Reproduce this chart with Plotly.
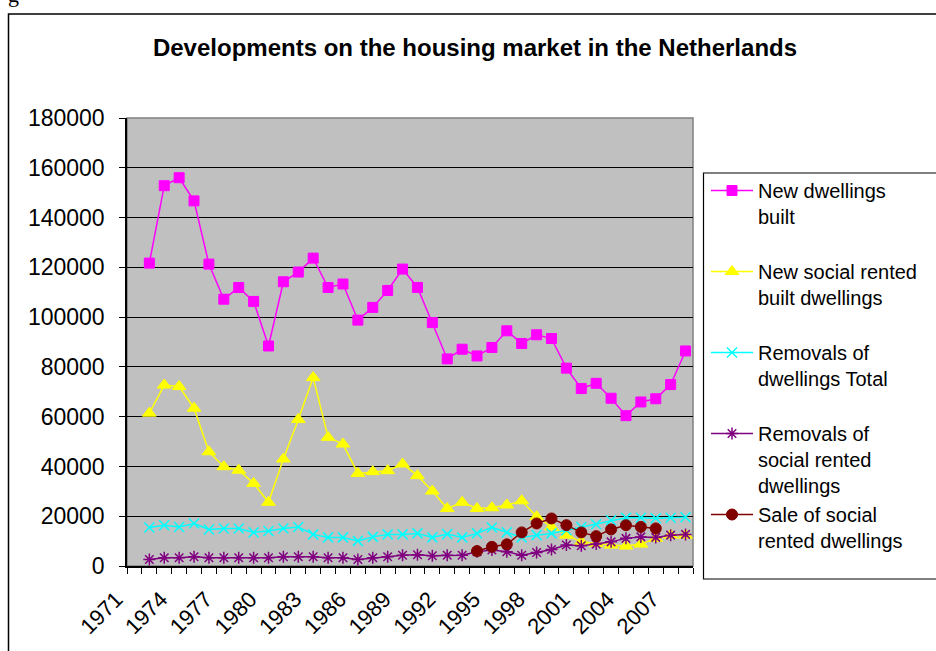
import plotly.graph_objects as go

years = [1971, 1972, 1973, 1974, 1975, 1976, 1977, 1978, 1979, 1980,
         1981, 1982, 1983, 1984, 1985, 1986, 1987, 1988, 1989, 1990,
         1991, 1992, 1993, 1994, 1995, 1996, 1997, 1998, 1999, 2000,
         2001, 2002, 2003, 2004, 2005, 2006, 2007, 2008]
label_years = [1971, 1974, 1977, 1980, 1983, 1986, 1989, 1992, 1995,
               1998, 2001, 2004, 2007]

new_dwellings = [None, 121700, 152800, 156000, 146700, 121300, 107200, 111900,
                 106300, 88400, 114200, 118100, 123700, 111900, 113300, 98800,
                 103900, 110700, 119300, 111900, 97800, 83200, 87100, 84400,
                 87800, 94500, 89400, 92900, 91400, 79500, 71300, 73400, 67400,
                 60400, 65900, 67200, 72900, 86400]
new_social = [None, 61400, 72700, 72100, 63400, 45900, 39900, 38500, 33200,
              25600, 43000, 58900, 75700, 51700, 49000, 37200, 37900, 38300,
              41000, 36300, 30100, 23100, 25600, 23100, 23400, 24500, 26200,
              19800, 15700, 12400, 9700, 9000, 8400, 8000, 8800, 11100, 12400,
              12400]
removals_total = [None, 15500, 16400, 15700, 17100, 14700, 15100, 15100, 13500,
                  14100, 15100, 15700, 12700, 11500, 11500, 10100, 11700, 12700,
                  12700, 13100, 11500, 12800, 11500, 13100, 15500, 13500, 11500,
                  12400, 13100, 14400, 15700, 16800, 18400, 19400, 19400, 19200,
                  19400, 19600]
removals_social = [None, 2600, 3300, 3300, 3700, 3300, 3300, 3300, 3300, 3300,
                   3700, 3700, 3700, 3300, 3300, 2600, 3300, 3700, 4300, 4500,
                   4100, 4300, 4300, 5700, 6400, 5700, 4300, 5400, 6600, 8400,
                   8100, 8800, 9700, 11100, 11700, 11500, 12400, 12700]
sale_social = [None, None, None, None, None, None, None, None, None, None,
               None, None, None, None, None, None, None, None, None, None,
               None, None, None, 6000, 7700, 8700, 13500, 17100, 19100, 16400,
               13500, 12000, 14700, 16400, 15700, 15100, None, None]

series_names = ["New dwellings<br>built<br> ",
                "New social rented<br>built dwellings<br> ",
                "Removals of<br>dwellings Total<br> ",
                "Removals of<br>social rented<br>dwellings",
                "Sale of social<br>rented dwellings"]

FONT = "Arial, 'Liberation Sans', sans-serif"
W, H = 936, 651
L, R, T, B = 127, 693, 118, 566
pw, ph = R - L, B - T


def px_x(p):
    return (p - L) / pw


def px_y(p):
    return (B - p) / ph


fig = go.Figure()

fig.add_trace(go.Scatter(
    x=years, y=new_dwellings, name=series_names[0], mode="lines+markers",
    line=dict(color="#FF00FF", width=1.5),
    marker=dict(symbol="square", size=10, color="#FF00FF",
                line=dict(color="#FF00FF", width=1))))
fig.add_trace(go.Scatter(
    x=years, y=new_social, name=series_names[1], mode="lines+markers",
    line=dict(color="#FFFF00", width=1.5),
    marker=dict(symbol="triangle-up", size=12, color="#FFFF00",
                line=dict(color="#FFFF00", width=1))))
fig.add_trace(go.Scatter(
    x=years, y=removals_total, name=series_names[2], mode="lines+markers",
    line=dict(color="#00FFFF", width=1.5),
    marker=dict(symbol="x-thin", size=10, color="#00FFFF",
                line=dict(color="#00FFFF", width=1.5))))
fig.add_trace(go.Scatter(
    x=years, y=removals_social, name=series_names[3], mode="lines+markers",
    line=dict(color="#800080", width=1.5),
    marker=dict(symbol="asterisk", size=10, color="#800080",
                line=dict(color="#800080", width=1.5))))
fig.add_trace(go.Scatter(
    x=years, y=sale_social, name=series_names[4], mode="lines+markers",
    line=dict(color="#800000", width=1.5),
    marker=dict(symbol="circle", size=11, color="#800000",
                line=dict(color="#800000", width=1))))

fig.update_layout(
    width=W, height=H,
    margin=dict(l=L, r=W - R, t=T, b=H - B, autoexpand=False),
    paper_bgcolor="white",
    plot_bgcolor="#C0C0C0",
    font=dict(family=FONT, size=21, color="black"),
    title=dict(text="<b>Developments on the housing market in the Netherlands</b>",
               xref="container", yref="container",
               x=475 / W, y=1 - 48 / H, xanchor="center", yanchor="middle",
               font=dict(family=FONT, size=24, color="black")),
    showlegend=True,
    legend=dict(x=px_x(706), y=px_y(171), xanchor="left", yanchor="top",
                borderwidth=0, bgcolor="rgba(0,0,0,0)",
                font=dict(family=FONT, size=20, color="black"),
                valign="top", tracegroupgap=0, itemwidth=42),
)

fig.update_xaxes(
    range=[1970.5, 2008.5], tickmode="array", tickvals=label_years,
    ticktext=[str(v) for v in label_years], tickangle=-45,
    ticks="outside", ticklen=0, showgrid=False, zeroline=False,
    showline=True, linecolor="black", linewidth=1.5,
    ticklabelstandoff=10, ticklabelshift=-18,
    tickfont=dict(family=FONT, size=22, color="black"),
    minor=dict(tickmode="linear", tick0=1970.5, dtick=1, ticks="outside",
               ticklen=6, tickcolor="black", tickwidth=1, showgrid=False),
    mirror=False,
)
fig.update_yaxes(
    range=[0, 180000], dtick=20000, tick0=0, tickformat="d",
    ticks="outside", ticklen=6, tickcolor="black",
    showgrid=True, gridcolor="black", gridwidth=1, zeroline=False,
    showline=True, linecolor="black", linewidth=1.5,
    ticklabelstandoff=10,
    tickfont=dict(family=FONT, size=23, color="black"),
)

# plot area border (grey top/right)
fig.add_shape(type="rect", xref="paper", yref="paper", x0=0, x1=1, y0=0, y1=1,
              line=dict(color="#808080", width=1.5), layer="below")
# outer chart border
fig.add_shape(type="rect", xref="paper", yref="paper",
              x0=px_x(8.5), x1=px_x(960), y0=px_y(680), y1=px_y(14),
              line=dict(color="black", width=1.5))
# legend frame
fig.add_shape(type="rect", xref="paper", yref="paper",
              x0=px_x(703.5), x1=px_x(960), y0=px_y(579), y1=px_y(173),
              line=dict(color="black", width=1.2))
# fragment of caption above chart
fig.add_annotation(text="g", xref="paper", yref="paper", x=px_x(6), y=px_y(9),
                   xanchor="left", yanchor="bottom", showarrow=False,
                   font=dict(family="'Liberation Serif', serif", size=22, color="black"))

fig.write_html("out.html", config={"displayModeBar": False},
               post_script="document.body.style.margin='0';document.body.style.overflow='hidden';")
